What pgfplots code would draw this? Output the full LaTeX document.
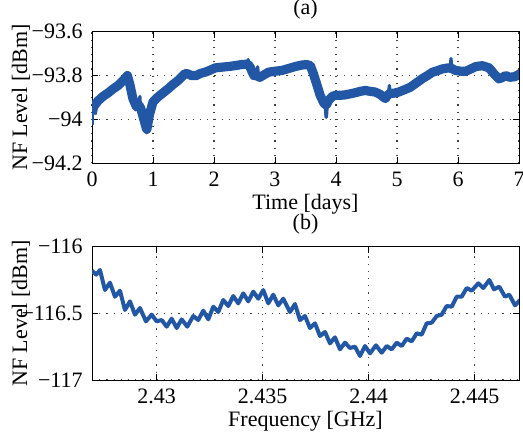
\documentclass[border=0pt]{standalone}
\usepackage{pgfplots}
\pgfplotsset{compat=1.18}
\usepackage{fontspec}
\setmainfont{Liberation Serif}
\definecolor{nfblue}{RGB}{34,87,166}
\pgfplotsset{
  every axis title/.style={at={(0.5,1)},anchor=base,yshift=8.4pt,font=\fontsize{11}{13}\selectfont},
  nfstyle/.style={
    scale only axis,
    width=213.5pt,
    anchor=south west,
    font=\fontsize{11}{13}\selectfont,
    axis line style={line width=0.5pt,black},
    tick align=inside,
    major tick length=3pt,
    tick style={black,line width=0.5pt},
    grid=major,
    grid style={black!75,line width=0.6pt,dash pattern=on 0.6pt off 3pt},
    xticklabel style={anchor=base,inner sep=0pt,yshift=-11.5pt,font=\fontsize{11}{13}\selectfont},
    yticklabel style={anchor=east,inner sep=0pt,xshift=-4.5pt,font=\fontsize{11}{13}\selectfont},
    xlabel style={at={(axis description cs:0.5,0)},anchor=base,yshift=-23pt,font=\fontsize{11}{13}\selectfont},
    ylabel style={at={(axis description cs:-0.152,0.5)},anchor=base,rotate=0,font=\fontsize{11}{13}\selectfont},
  }
}
\begin{document}
\begin{tikzpicture}
\path[use as bounding box] (0,0) rectangle (261.5pt,219pt);
\begin{axis}[nfstyle,
  at={(46pt,137.35pt)}, height=65.8pt,
  xmin=0, xmax=7, ymin=-94.2, ymax=-93.6,
  xtick={0,1,2,3,4,5,6,7},
  xticklabels={0,1,2,3,4,5,6,7},
  ytick={-94.2,-94,-93.8,-93.6},
  yticklabels={−94.2,−94,−93.8,−93.6},
  title={(a)},
  xlabel={Time [days]},
  ylabel={NF Level [dBm]},
]
% main band
\addplot[nfblue, line width=4.6pt, line join=round] coordinates {
(0.00,-93.975) (0.03,-93.94) (0.10,-93.915) (0.18,-93.895)
(0.26,-93.88) (0.35,-93.86) (0.43,-93.845) (0.50,-93.825) (0.56,-93.808)
(0.58,-93.80) (0.62,-93.84) (0.67,-93.905) (0.73,-93.943) (0.77,-93.935)
(0.80,-93.95) (0.84,-93.99) (0.89,-94.04) (0.90,-94.045)
(0.94,-93.98) (1.00,-93.92) (1.08,-93.898) (1.16,-93.88) (1.25,-93.86)
(1.33,-93.84) (1.41,-93.823) (1.52,-93.792) (1.57,-93.792) (1.63,-93.80)
(1.71,-93.80) (1.78,-93.79) (1.85,-93.785) (1.94,-93.775) (2.02,-93.765)
(2.12,-93.762) (2.23,-93.759) (2.34,-93.755) (2.45,-93.75) (2.55,-93.748)
(2.59,-93.76) (2.62,-93.78) (2.655,-93.80) (2.69,-93.80) (2.75,-93.808)
(2.80,-93.80) (2.89,-93.785)
(3.00,-93.78) (3.11,-93.777) (3.22,-93.768) (3.33,-93.759) (3.44,-93.752)
(3.52,-93.75) (3.58,-93.755) (3.63,-93.792) (3.69,-93.845) (3.74,-93.89)
(3.80,-93.925) (3.84,-93.935) (3.88,-93.913)
(3.94,-93.895) (3.99,-93.89) (4.07,-93.89) (4.15,-93.888) (4.24,-93.883)
(4.32,-93.878) (4.40,-93.872) (4.48,-93.868) (4.56,-93.872) (4.64,-93.875)
(4.72,-93.885) (4.81,-93.905) (4.85,-93.888) (4.89,-93.882)
(4.96,-93.88) (5.03,-93.875) (5.12,-93.865) (5.22,-93.853) (5.31,-93.835)
(5.41,-93.815) (5.50,-93.80) (5.58,-93.785) (5.66,-93.778) (5.74,-93.77)
(5.84,-93.765) (5.90,-93.768) (5.96,-93.777) (6.05,-93.78)
(6.13,-93.78) (6.21,-93.77) (6.29,-93.759) (6.40,-93.755) (6.51,-93.765)
(6.59,-93.792) (6.67,-93.815) (6.72,-93.81) (6.78,-93.80) (6.85,-93.808)
(6.93,-93.805) (7.00,-93.795)
};
% narrow noise spikes
\addplot[nfblue, line width=1.6pt, line join=round] coordinates {
(0.005,-93.96) (0.005,-94.025)
};
\addplot[nfblue, line width=1.6pt, line join=round] coordinates {
(0.775,-93.94) (0.785,-93.895) (0.795,-93.945)
};
\addplot[nfblue, line width=1.8pt, line join=round] coordinates {
(0.875,-94.03) (0.895,-94.06) (0.915,-94.03)
};
\addplot[nfblue, line width=1.6pt, line join=round] coordinates {
(2.545,-93.745) (2.56,-93.727) (2.575,-93.75)
};
\addplot[nfblue, line width=1.6pt, line join=round] coordinates {
(2.66,-93.80) (2.675,-93.772) (2.69,-93.80) (2.715,-93.76) (2.73,-93.80)
};
\addplot[nfblue, line width=1.8pt, line join=round] coordinates {
(3.825,-93.93) (3.84,-93.99) (3.855,-93.93)
};
\addplot[nfblue, line width=1.6pt, line join=round] coordinates {
(4.86,-93.88) (4.875,-93.845) (4.89,-93.88)
};
\addplot[nfblue, line width=1.6pt, line join=round] coordinates {
(5.87,-93.765) (5.885,-93.722) (5.90,-93.765)
};
\addplot[nfblue, line width=1.6pt, line join=round] coordinates {
(6.97,-93.80) (6.995,-93.775)
};
\end{axis}
\begin{axis}[nfstyle,
  at={(46pt,29pt)}, height=66.65pt,
  xmin=2.42695, xmax=2.44709, ymin=-117, ymax=-116,
  xtick={2.43,2.435,2.44,2.445},
  xticklabels={2.43,2.435,2.44,2.445},
  ytick={-117,-116.5,-116},
  yticklabels={−117,−116.5,−116},
  title={(b)},
  xlabel={Frequency [GHz]},
  ylabel={NF Level [dBm]},
]
\addplot[nfblue, line width=2pt, line join=round] coordinates {
(2.42695,-116.18) (2.42715,-116.21) (2.427325,-116.175) (2.427561,-116.325)
(2.427797,-116.27) (2.428033,-116.375) (2.428269,-116.33) (2.428505,-116.475)
(2.428741,-116.41) (2.428976,-116.51) (2.429212,-116.46) (2.429495,-116.56)
(2.429764,-116.51) (2.430000,-116.56) (2.430236,-116.55) (2.430472,-116.60)
(2.430708,-116.54) (2.430943,-116.61) (2.431179,-116.545) (2.431443,-116.60)
(2.431726,-116.52) (2.431962,-116.55) (2.432198,-116.48) (2.432434,-116.545)
(2.43267,-116.45) (2.432906,-116.49) (2.433142,-116.40) (2.433377,-116.445)
(2.433613,-116.37) (2.433849,-116.425) (2.434085,-116.35) (2.434321,-116.41)
(2.434557,-116.337) (2.434792,-116.39) (2.435028,-116.325) (2.435264,-116.425)
(2.4355,-116.36) (2.435736,-116.44) (2.435972,-116.39) (2.436288,-116.49)
(2.436524,-116.43) (2.43676,-116.55) (2.436995,-116.52) (2.437231,-116.61)
(2.437467,-116.575) (2.437703,-116.67) (2.437939,-116.64) (2.438175,-116.725)
(2.43841,-116.68) (2.438646,-116.77) (2.438882,-116.72) (2.439118,-116.76)
(2.439354,-116.75) (2.43959,-116.82) (2.439826,-116.745) (2.440061,-116.80)
(2.440344,-116.74) (2.440613,-116.795) (2.440849,-116.745) (2.441085,-116.77)
(2.441321,-116.72) (2.441557,-116.745) (2.441793,-116.69) (2.442028,-116.71)
(2.442264,-116.65) (2.4425,-116.66) (2.442736,-116.575) (2.442972,-116.57)
(2.443208,-116.52) (2.443443,-116.51) (2.443679,-116.445) (2.443915,-116.45)
(2.444151,-116.375) (2.444387,-116.375) (2.444623,-116.31) (2.444859,-116.33)
(2.44517,-116.275) (2.445406,-116.31) (2.445689,-116.25) (2.445911,-116.32)
(2.446161,-116.30) (2.446429,-116.375) (2.446632,-116.36) (2.446901,-116.44)
(2.447137,-116.40)
};
\end{axis}
\end{tikzpicture}
\end{document}
